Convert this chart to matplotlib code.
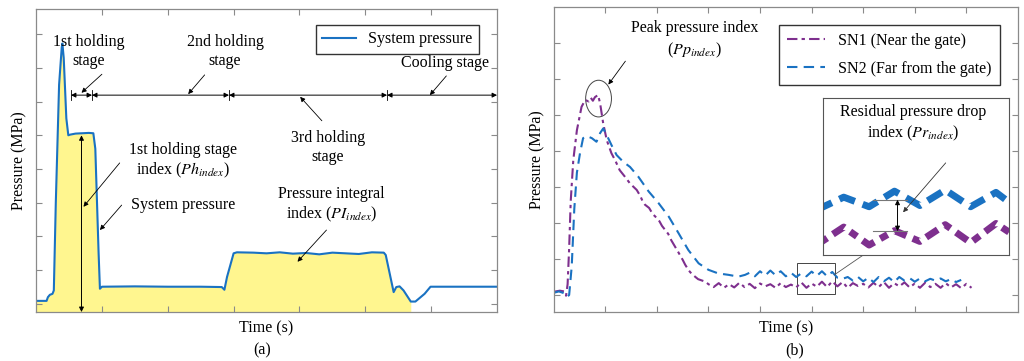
import matplotlib
matplotlib.use("Agg")
import matplotlib.pyplot as plt
from matplotlib.patches import Ellipse, Rectangle
import numpy as np

plt.rcParams['font.family'] = ['Liberation Serif', 'DejaVu Serif']
plt.rcParams['mathtext.fontset'] = 'stix'

# (a) system pressure curve
sys_t = [0, 0.16, 0.18, 0.21, 0.25, 0.27, 0.30, 0.35, 0.39, 0.40, 0.42, 0.46, 0.49,
         0.52, 0.6, 0.7, 0.8, 0.87, 0.9, 0.95, 0.97, 1.0, 1.5, 2.0, 2.5, 2.82, 2.86,
         2.9, 3.0, 3.05, 3.3, 3.5, 3.7, 3.9, 4.1, 4.3, 4.5, 4.7, 4.9, 5.1, 5.28, 5.31,
         5.43, 5.47, 5.52, 5.58, 5.69, 5.76, 5.9, 5.99, 6.2, 7.0]
sys_p = [0.09, 0.09, 0.2, 0.27, 0.3, 0.4, 3.0, 6.5, 7.6, 7.72, 7.3, 5.5, 5.0,
         5.02, 5.05, 5.06, 5.07, 5.06, 4.6, 1.5, 0.45, 0.51, 0.52, 0.51, 0.51, 0.5, 0.42,
         0.8, 1.5, 1.53, 1.52, 1.5, 1.53, 1.49, 1.51, 1.47, 1.52, 1.5, 1.48, 1.53, 1.52, 1.45,
         0.35, 0.5, 0.52, 0.4, 0.07, 0.07, 0.3, 0.51, 0.51, 0.51]
fill_end = 5.72

# (b) sensor pressures
sn1_t = [0, 0.12, 0.2, 0.24, 0.27, 0.3, 0.33, 0.38, 0.45, 0.54, 0.61, 0.68, 0.72, 0.76,
         0.8, 0.86, 0.9, 0.96, 1.03, 1.12, 1.19, 1.28, 1.38, 1.48, 1.61, 1.68, 1.72, 1.77,
         1.85, 1.92, 1.97, 2.05, 2.1, 2.16, 2.22, 2.28, 2.35, 2.42, 2.5, 2.55, 2.62, 2.68,
         2.74, 2.8, 2.88, 2.94, 3.0,
         3.1, 3.2, 3.3, 3.4, 3.5, 3.6, 3.7, 3.8, 3.9, 4.0, 4.1, 4.2, 4.3, 4.4, 4.5, 4.6,
         4.7, 4.8, 4.9, 5.0, 5.1, 5.2, 5.3, 5.4, 5.5, 5.6, 5.7, 5.8, 5.9, 6.0, 6.1, 6.2,
         6.3, 6.4, 6.5, 6.6, 6.7, 6.8, 6.9, 7.0, 7.1, 7.2, 7.3, 7.4, 7.5, 7.6, 7.7, 7.8,
         7.9, 8.0, 8.1]
sn1_p = [0.09, 0.12, 0.1, -0.02, 0.3, 1.3, 2.6, 3.75, 4.58, 5.23, 5.42, 5.38, 5.48, 5.4,
         5.5, 5.56, 5.33, 4.77, 4.3, 3.94, 3.75, 3.47, 3.29, 3.1, 2.92, 2.75, 2.62, 2.51,
         2.42, 2.25, 2.18, 2.05, 1.92, 1.81, 1.7, 1.52, 1.35, 1.18, 0.98, 0.84, 0.68, 0.58,
         0.51, 0.44, 0.4, 0.37, 0.3,
         0.22, 0.33, 0.2, 0.3, 0.21, 0.34, 0.22, 0.31, 0.19, 0.32, 0.24, 0.3, 0.2, 0.33,
         0.22, 0.29, 0.21, 0.35, 0.2, 0.32, 0.23, 0.37, 0.22, 0.38, 0.24, 0.36, 0.2, 0.33,
         0.25, 0.31, 0.21, 0.34, 0.22, 0.36, 0.2, 0.33, 0.24, 0.35, 0.21, 0.32, 0.2, 0.34,
         0.22, 0.31, 0.2, 0.33, 0.21, 0.3, 0.19, 0.31, 0.2]

sn2_t = [0, 0.1, 0.2, 0.26, 0.3, 0.35, 0.4, 0.45, 0.51, 0.57, 0.64, 0.74, 0.83, 0.9,
         0.96, 1.03, 1.12, 1.22, 1.35, 1.48, 1.64, 1.84, 2.03, 2.23, 2.42, 2.61, 2.81,
         3.0, 3.19, 3.39, 3.58, 3.71,
         3.8, 3.9, 4.0, 4.1, 4.2, 4.3, 4.4, 4.5, 4.6, 4.7, 4.8, 4.9, 5.0, 5.1, 5.2, 5.3,
         5.4, 5.5, 5.6, 5.7, 5.8, 5.9, 6.0, 6.1, 6.2, 6.3, 6.4, 6.5, 6.6, 6.7, 6.8, 6.9,
         7.0, 7.1, 7.2, 7.3, 7.4, 7.5, 7.6, 7.7, 7.8, 7.9]
sn2_p = [0.06, 0.1, 0.05, -0.05, 0.0, 0.8, 2.4, 3.4, 3.94, 4.36, 4.42, 4.36, 4.26, 4.5,
         4.63, 4.44, 4.17, 3.89, 3.7, 3.56, 3.29, 2.88, 2.56, 2.18, 1.72, 1.25, 0.88,
         0.7, 0.6, 0.56, 0.51, 0.56,
         0.62, 0.52, 0.66, 0.54, 0.68, 0.55, 0.66, 0.52, 0.62, 0.5, 0.6, 0.52, 0.65, 0.53,
         0.66, 0.52, 0.64, 0.48, 0.45, 0.5, 0.4, 0.5, 0.38, 0.48, 0.36, 0.5, 0.38, 0.48,
         0.36, 0.5, 0.4, 0.47, 0.37, 0.46, 0.38, 0.45, 0.4, 0.46, 0.38, 0.44, 0.36, 0.42]

BLUE = '#1a72c2'
PURPLE = '#7e2f8e'
YELLOW = '#fff68f'
GRID = '#8a8a8a'
FS = 11.5

fig = plt.figure(figsize=(10.24, 3.61), dpi=100)
ax1 = fig.add_axes([0.0352, 0.1357, 0.4502, 0.839])
ax2 = fig.add_axes([0.5407, 0.135, 0.4534, 0.845])


def style_axes(ax):
    ax.tick_params(direction='in', top=True, right=True, length=4, color=GRID,
                   labelleft=False, labelbottom=False)
    for s in ax.spines.values():
        s.set_color(GRID)
        s.set_linewidth(0.9)


def arrow(ax, tail, head, style='-|>', lw=0.6, color='k'):
    ax.annotate('', xy=head, xytext=tail,
                arrowprops=dict(arrowstyle=style, color=color, lw=lw,
                                mutation_scale=7, shrinkA=0, shrinkB=0))


# ---------- (a) ----------
ax1.set_xlim(0, 7)
ax1.set_ylim(-0.24, 8.74)
ax1.set_xticks(range(1, 7))
ax1.set_yticks(range(0, 9))
style_axes(ax1)

t = np.array(sys_t)
ax1.fill_between(t, sys_p, -0.24, where=t <= fill_end, color=YELLOW, lw=0)
ax1.plot(sys_t, sys_p, color=BLUE, lw=1.5, label='System pressure')
ax1.legend(loc='upper right', bbox_to_anchor=(0.978, 0.974), fontsize=FS,
           fancybox=False, edgecolor='#333333', framealpha=1, handlelength=2.1,
           borderpad=0.4)

# stage dimension line
y_dim = 6.19
bounds = [0.53, 0.85, 2.93, 5.33, 7.0]
for i in range(4):
    arrow(ax1, (bounds[i], y_dim), (bounds[i + 1], y_dim), style='<|-|>', lw=0.7)
for b in bounds[:4]:
    ax1.plot([b, b], [y_dim - 0.15, y_dim + 0.15], color='k', lw=0.6)

ax1.text(0.80, 7.47, '1st holding\nstage', ha='center', va='center', fontsize=FS,
         linespacing=1.25)
ax1.text(2.87, 7.47, '2nd holding\nstage', ha='center', va='center', fontsize=FS,
         linespacing=1.25)
ax1.text(6.21, 7.14, 'Cooling stage', ha='center', va='center', fontsize=FS)
ax1.text(4.43, 4.65, '3rd holding\nstage', ha='center', va='center', fontsize=FS,
         linespacing=1.25)
ax1.text(2.23, 4.24, '1st holding stage\nindex ($Ph_{index}$)', ha='center',
         va='center', fontsize=FS, linespacing=1.25)
ax1.text(2.23, 2.93, 'System pressure', ha='center', va='center', fontsize=FS)
ax1.text(4.49, 2.93, 'Pressure integral\nindex ($PI_{index}$)', ha='center',
         va='center', fontsize=FS, linespacing=1.25)

arrow(ax1, (1.0, 6.81), (0.69, 6.26))
arrow(ax1, (2.56, 6.79), (2.31, 6.22))
arrow(ax1, (6.23, 6.76), (5.98, 6.19))
arrow(ax1, (4.34, 5.43), (4.01, 6.14))
arrow(ax1, (1.27, 4.18), (0.72, 2.88))
arrow(ax1, (1.30, 2.93), (0.97, 2.19))
arrow(ax1, (4.41, 2.19), (3.97, 1.25))
arrow(ax1, (0.69, 5.0), (0.69, -0.24), style='<|-|>', lw=0.7)

ax1.set_xlabel('Time (s)', fontsize=FS, labelpad=6)
ax1.set_ylabel('Pressure (MPa)', fontsize=FS, labelpad=6)
fig.text(0.256, 0.03, '(a)', ha='center', va='center', fontsize=FS)

# ---------- (b) ----------
ax2.set_xlim(0, 9)
ax2.set_ylim(-0.48, 8.0)
ax2.set_xticks(range(1, 9))
ax2.set_yticks(range(0, 8))
style_axes(ax2)

sn1_dash = (0, (5, 2, 1.6, 2))
sn2_dash = (0, (5, 3))
ax2.plot(sn1_t, sn1_p, color=PURPLE, lw=1.5, linestyle=sn1_dash,
         label='SN1 (Near the gate)')
ax2.plot(sn2_t, sn2_p, color=BLUE, lw=1.5, linestyle=sn2_dash,
         label='SN2 (Far from the gate)')
ax2.legend(loc='upper right', bbox_to_anchor=(0.978, 0.968), fontsize=FS,
           fancybox=False, edgecolor='#333333', framealpha=1, handlelength=2.4,
           labelspacing=0.75, borderpad=0.5)

ax2.text(2.73, 7.08, 'Peak pressure index\n($Pp_{index}$)', ha='center',
         va='center', fontsize=FS, linespacing=1.35)
ax2.add_patch(Ellipse((0.87, 5.46), 0.5, 1.02, fill=False, edgecolor='#444444',
                      lw=0.7))
arrow(ax2, (1.39, 6.5), (1.06, 5.85))

# zoom box and inset
ax2.add_patch(Rectangle((4.72, 0.02), 0.73, 0.86, fill=False, edgecolor='#444444',
                        lw=0.7))
ax2.plot([5.44, 5.98], [0.56, 1.09], color='#555555', lw=0.6)

axin = ax2.inset_axes([0.581, 0.189, 0.399, 0.514])
axin.plot(sn1_t, sn1_p, color=PURPLE, lw=5, linestyle=(0, (2, 1, 1.2, 1)))
axin.plot(sn2_t, sn2_p, color=BLUE, lw=5, linestyle=(0, (2.4, 1.2)))
axin.set_xlim(4.72, 5.45)
axin.set_ylim(0.12, 1.43)
axin.set_xticks([])
axin.set_yticks([])
for s in axin.spines.values():
    s.set_color('#555555')
    s.set_linewidth(0.8)
axin.text(0.485, 0.835, 'Residual pressure drop\nindex ($Pr_{index}$)',
          transform=axin.transAxes, ha='center', va='center', fontsize=FS,
          linespacing=1.3)
axin.plot([0.27, 0.45], [0.35, 0.35], transform=axin.transAxes, color='#777777',
          lw=0.8)
axin.plot([0.27, 0.45], [0.15, 0.15], transform=axin.transAxes, color='#777777',
          lw=0.8)
axin.annotate('', xy=(0.40, 0.15), xytext=(0.40, 0.35), xycoords='axes fraction',
              arrowprops=dict(arrowstyle='<|-|>', color='k', lw=0.7,
                              mutation_scale=7, shrinkA=0, shrinkB=0))
axin.annotate('', xy=(0.43, 0.27), xytext=(0.66, 0.585), xycoords='axes fraction',
              arrowprops=dict(arrowstyle='-|>', color='#333333', lw=0.6,
                              mutation_scale=7, shrinkA=0, shrinkB=0))

ax2.set_xlabel('Time (s)', fontsize=FS, labelpad=6)
ax2.set_ylabel('Pressure (MPa)', fontsize=FS, labelpad=6)
fig.text(0.776, 0.03, '(b)', ha='center', va='center', fontsize=FS)

fig.savefig('out.png', dpi=100)
